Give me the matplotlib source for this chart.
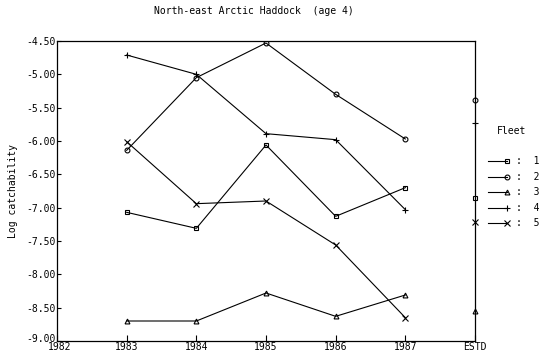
import matplotlib
matplotlib.use("Agg")
import matplotlib.pyplot as plt
import matplotlib.transforms as mtransforms
from matplotlib.lines import Line2D

years = [1983, 1984, 1985, 1986, 1987]
estd_pos = 1988
fleets = ["1", "2", "3", "4", "5"]
markers = ["s", "o", "^", "+", "x"]
fleet1 = [-7.07, -7.31, -6.06, -7.13, -6.70]
fleet2 = [-6.14, -5.05, -4.53, -5.30, -5.97]
fleet3 = [-8.70, -8.70, -8.28, -8.63, -8.31]
fleet4 = [-4.71, -5.00, -5.89, -5.98, -7.03]
fleet5 = [-6.01, -6.94, -6.90, -7.56, -8.65]
estd = [-6.85, -5.39, -8.55, -5.73, -7.21]
xtick_labels = ["1982", "1983", "1984", "1985", "1986", "1987", "ESTD"]
ytick_vals = [-4.5, -5.0, -5.5, -6.0, -6.5, -7.0, -7.5, -8.0, -8.5, -9.0]

series = [fleet1, fleet2, fleet3, fleet4, fleet5]

def msize(m):
    return 5 if m in ("+", "x") else 3.5

plt.rcParams['font.family'] = ['DejaVu Sans Mono']
fig = plt.figure(figsize=(5.45, 3.57), dpi=100)
ax = fig.add_axes([57/545, 1 - 341/357, (475-57)/545, (341-41)/357])

for vals, m in zip(series, markers):
    ax.plot(years, vals, color='black', lw=0.8, marker=m, ms=msize(m),
            mfc='none', mec='black', mew=0.8)
for e, m in zip(estd, markers):
    ax.plot([estd_pos], [e], color='black', marker=m, ms=msize(m),
            mfc='none', mec='black', mew=0.8, ls='none', clip_on=False, zorder=5)

ax.set_xlim(1982, 1988)
ax.set_ylim(-9.0, -4.5)
ax.set_xticks(list(range(1982, 1989)))
ax.set_xticklabels(xtick_labels, fontsize=7)
ax.set_yticks(ytick_vals)
ax.set_yticklabels([f"{v:.2f}" for v in ytick_vals], fontsize=7)
ax.tick_params(axis='x', direction='in', length=4, width=0.8, pad=1)
ax.tick_params(axis='y', direction='in', length=3, width=0.8, pad=1)
for s in ax.spines.values():
    s.set_linewidth(0.9)
ax.set_ylabel("Log catchability", fontsize=7, labelpad=6)

# small nudges so the corner labels only touch, as in the reference
ylab = ax.get_yticklabels()[-1]
ylab.set_transform(ylab.get_transform() + mtransforms.ScaledTranslation(0, 3/100, fig.dpi_scale_trans))
xlab = ax.get_xticklabels()[0]
xlab.set_transform(xlab.get_transform() + mtransforms.ScaledTranslation(3/100, 0, fig.dpi_scale_trans))

fig.text(254/545, 1 - 11/357, "North-east Arctic Haddock  (age 4)", ha='center', va='center', fontsize=7)

fig.text(497/545, 1 - 131/357, "Fleet", ha='left', va='center', fontsize=7)
for i, (f, m) in enumerate(zip(fleets, markers)):
    y = 1 - (161 + i * 15.5) / 357
    fig.add_artist(Line2D([488/545, 507/545], [y, y], color='black', lw=0.8,
                          transform=fig.transFigure))
    fig.add_artist(Line2D([507/545], [y], color='black', marker=m, ms=msize(m),
                          mfc='none', mec='black', mew=0.8,
                          transform=fig.transFigure))
    fig.text(516/545, y, ":  " + f, ha='left', va='center', fontsize=7)

fig.savefig("out.png", dpi=100)
